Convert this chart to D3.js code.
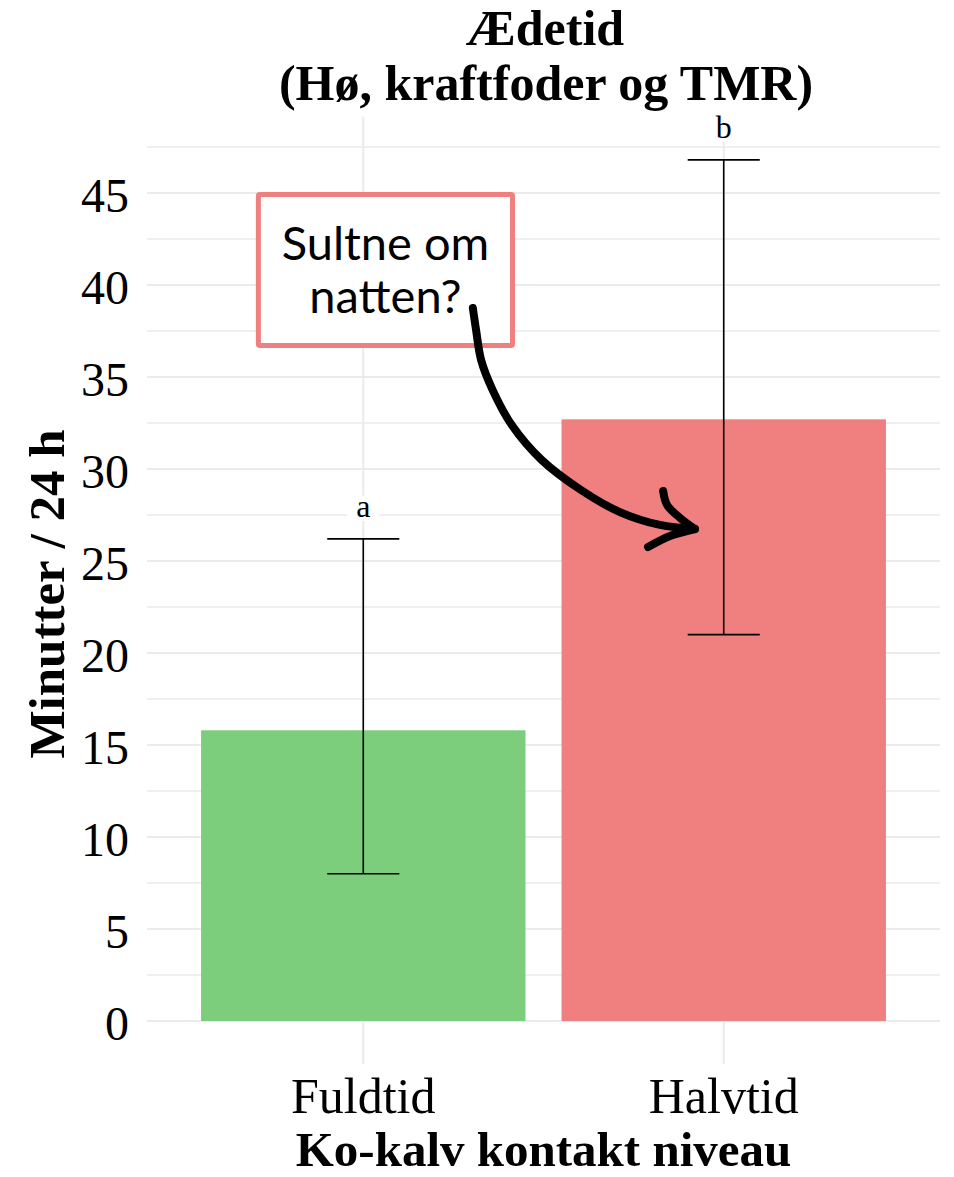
<!DOCTYPE html>
<html>
<head>
<meta charset="utf-8">
<script src="https://cdn.jsdelivr.net/npm/d3@7"></script>
<style>
  html, body { margin: 0; padding: 0; background: #fff; overflow: hidden; }
  svg { display: block; }
  .serif { font-family: "Liberation Serif", "Times New Roman", serif; }
</style>
</head>
<body>
<div id="chart"></div>
<script>
// data
var groups = ["Fuldtid", "Halvtid"];
var means = [15.8, 32.7];
var lower = [8.0, 21.0];
var upper = [26.2, 46.8];
var letters = ["a", "b"];
var barColors = ["#7CCD7C", "#F08080"];
var yTicks = [0, 5, 10, 15, 20, 25, 30, 35, 40, 45];
var yMinor = [2.5, 7.5, 12.5, 17.5, 22.5, 27.5, 32.5, 37.5, 42.5, 47.5];

// annotation, in data units (x = category position, y = minutes)
var noteLines = ["Sultne om", "natten?"];
var arrowPath = [[1.304, 38.75], [1.313, 37.55], [1.327, 35.92], [1.359, 34.29], [1.412, 32.39],
                 [1.495, 30.49], [1.604, 28.86], [1.712, 27.66], [1.823, 26.96], [1.920, 26.74]];
var arrowHeadTop = [[1.832, 28.80], [1.843, 28.04], [1.879, 27.34], [1.920, 26.74]];
var arrowHeadBottom = [[1.790, 25.76], [1.851, 26.36], [1.920, 26.74]];

var svgWidth = 954;
var svgHeight = 1177;

var svg = d3.select("#chart")
    .append("svg")
    .attr("width", svgWidth)
    .attr("height", svgHeight);

// panel
var panelLeft = 147, panelRight = 940;

// continuous x in category units (1 = first group), ggplot style 0.6 expansion
var xCont = d3.scaleLinear()
    .domain([0.4, 2.6])
    .range([panelLeft, panelRight]);
var unit = xCont(2) - xCont(1);

// y scale
var yScale = d3.scaleLinear()
    .domain([0, 45])
    .range([1021, 193]);
var yBottom = yScale(-2.34), yTop = yScale(49.14);

// grid - minor
svg.append("g").selectAll("line")
    .data(yMinor)
    .enter()
    .append("line")
    .attr("x1", panelLeft).attr("x2", panelRight)
    .attr("y1", d => yScale(d)).attr("y2", d => yScale(d))
    .attr("stroke", "#EFEFEF")
    .attr("stroke-width", 2);

// grid - major
svg.append("g").selectAll("line")
    .data(yTicks)
    .enter()
    .append("line")
    .attr("x1", panelLeft).attr("x2", panelRight)
    .attr("y1", d => yScale(d)).attr("y2", d => yScale(d))
    .attr("stroke", "#EBEBEB")
    .attr("stroke-width", 2);

// vertical grid
svg.append("g").selectAll("line")
    .data(groups)
    .enter()
    .append("line")
    .attr("x1", (d, i) => xCont(i + 1)).attr("x2", (d, i) => xCont(i + 1))
    .attr("y1", yTop).attr("y2", yBottom)
    .attr("stroke", "#EBEBEB")
    .attr("stroke-width", 2);

// bars
var barW = unit * 0.9;
svg.append("g").selectAll("rect")
    .data(means)
    .enter()
    .append("rect")
    .attr("x", (d, i) => xCont(i + 1) - barW / 2)
    .attr("width", barW)
    .attr("y", d => yScale(d))
    .attr("height", d => yScale(0) - yScale(d))
    .attr("fill", (d, i) => barColors[i]);

// error bars
var capW = unit * 0.2;
var eb = svg.append("g").attr("stroke", "#000").attr("stroke-width", 1.6);
groups.forEach(function(g, i) {
    var cx = xCont(i + 1);
    eb.append("line").attr("x1", cx).attr("x2", cx)
        .attr("y1", yScale(lower[i])).attr("y2", yScale(upper[i]));
    eb.append("line").attr("x1", cx - capW / 2).attr("x2", cx + capW / 2)
        .attr("y1", yScale(lower[i])).attr("y2", yScale(lower[i]));
    eb.append("line").attr("x1", cx - capW / 2).attr("x2", cx + capW / 2)
        .attr("y1", yScale(upper[i])).attr("y2", yScale(upper[i]));
});

// significance letters (white label background)
var lab = svg.append("g").selectAll("g")
    .data(letters)
    .enter()
    .append("g")
    .attr("transform", (d, i) => `translate(${xCont(i + 1)}, ${yScale(upper[i] + 1.2)})`);
lab.append("rect")
    .attr("x", -16).attr("y", -21)
    .attr("width", 32).attr("height", 25)
    .attr("fill", "#fff");
lab.append("text")
    .attr("class", "serif")
    .attr("text-anchor", "middle")
    .attr("font-size", "32px")
    .attr("fill", "#000")
    .text(d => d);

// y tick labels
svg.append("g").selectAll("text")
    .data(yTicks)
    .enter()
    .append("text")
    .attr("class", "serif")
    .attr("x", 129)
    .attr("y", d => yScale(d) + 19)
    .attr("text-anchor", "end")
    .attr("font-size", "48px")
    .attr("fill", "#000")
    .text(d => d);

// x tick labels
svg.append("g").selectAll("text")
    .data(groups)
    .enter()
    .append("text")
    .attr("class", "serif")
    .attr("x", (d, i) => xCont(i + 1))
    .attr("y", 1113)
    .attr("text-anchor", "middle")
    .attr("font-size", "50px")
    .attr("fill", "#000")
    .text(d => d);

// axis titles
svg.append("text")
    .attr("class", "serif")
    .attr("x", (panelLeft + panelRight) / 2)
    .attr("y", 1166)
    .attr("text-anchor", "middle")
    .attr("font-size", "49px")
    .attr("font-weight", "bold")
    .text("Ko-kalv kontakt niveau");

svg.append("text")
    .attr("class", "serif")
    .attr("transform", "rotate(-90)")
    .attr("x", -594)
    .attr("y", 64)
    .attr("text-anchor", "middle")
    .attr("font-size", "51px")
    .attr("font-weight", "bold")
    .text("Minutter / 24 h");

// chart title
var title = svg.append("text")
    .attr("class", "serif")
    .attr("text-anchor", "middle")
    .attr("font-size", "50px")
    .attr("font-weight", "bold");
title.append("tspan").attr("x", 545).attr("y", 45).text("Ædetid");
title.append("tspan").attr("x", 546).attr("y", 100).text("(Hø, kraftfoder og TMR)");

// annotation box
var bx0 = xCont(0.709), bx1 = xCont(1.414);
var by0 = yScale(44.92), by1 = yScale(36.71);
svg.append("rect")
    .attr("x", bx0).attr("y", by0)
    .attr("width", bx1 - bx0).attr("height", by1 - by0)
    .attr("rx", 1.5)
    .attr("fill", "#fff")
    .attr("stroke", "#F08080")
    .attr("stroke-width", 5);

svg.append("g").selectAll("text")
    .data(noteLines)
    .enter()
    .append("text")
    .attr("x", (bx0 + bx1) / 2)
    .attr("y", (d, i) => yScale(41.36) + i * 53)
    .attr("text-anchor", "middle")
    .attr("font-family", "Lato, 'Noto Sans', sans-serif")
    .attr("font-size", "47px")
    .attr("fill", "#000")
    .text(d => d);

// arrow
var arrowLine = d3.line()
    .x(d => xCont(d[0]))
    .y(d => yScale(d[1]))
    .curve(d3.curveCatmullRom);

[arrowPath, arrowHeadTop, arrowHeadBottom].forEach(function(p) {
    svg.append("path")
        .attr("d", arrowLine(p))
        .attr("fill", "none")
        .attr("stroke", "#000")
        .attr("stroke-width", 8)
        .attr("stroke-linecap", "round")
        .attr("stroke-linejoin", "round");
});
</script>
</body>
</html>
